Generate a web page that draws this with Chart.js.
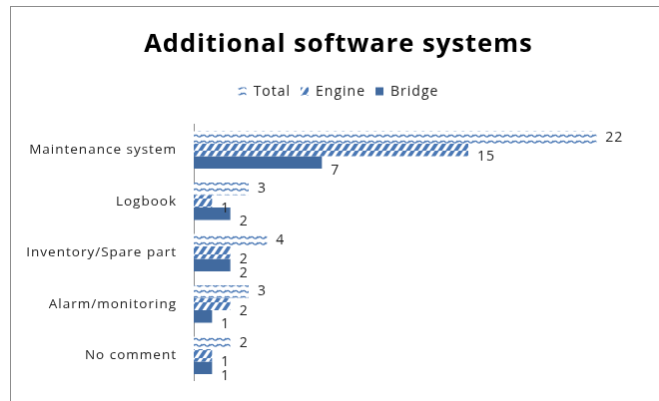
<!DOCTYPE html>
<html>
<head>
<meta charset="utf-8">
<script src="https://cdn.jsdelivr.net/npm/chart.js@4"></script>
<style>
    html, body { margin: 0; padding: 0; background: #fff; overflow: hidden; width: 659px; height: 401px; }
    #chart { position: absolute; left: 10px; top: 6px; border-left: 1px solid #8c8c8c; border-top: 1px solid #8c8c8c; }
</style>
</head>
<body>
<canvas id="chart" width="660" height="400"></canvas>
<script>
// Dados do gráfico
const categories = ['Maintenance system', 'Logbook', 'Inventory/Spare part', 'Alarm/monitoring', 'No comment'];
const totalValues = [22, 3, 4, 3, 2];
const engineValues = [15, 1, 2, 2, 1];
const bridgeValues = [7, 2, 2, 1, 1];
const seriesNames = ['Total', 'Engine', 'Bridge'];

const blue = '#416a9f';
const patternBlue = '#4a78b5';
const fontFamily = '"Open Sans", Lato, sans-serif';

// Padrão ondulado (Total)
function wavePattern() {
    const c = document.createElement('canvas');
    c.width = 8;
    c.height = 6;
    const g = c.getContext('2d');
    g.fillStyle = '#fff';
    g.fillRect(0, 0, 8, 6);
    g.strokeStyle = patternBlue;
    g.lineWidth = 1.3;
    g.beginPath();
    g.moveTo(-1, 4);
    g.quadraticCurveTo(1, 1, 3, 3.5);
    g.quadraticCurveTo(5, 5, 7, 2.5);
    g.lineTo(9, 4);
    g.stroke();
    return g.createPattern(c, 'repeat');
}

// Padrão de listras diagonais largas (Engine)
function hatchPattern() {
    const c = document.createElement('canvas');
    c.width = 8;
    c.height = 8;
    const g = c.getContext('2d');
    g.fillStyle = '#fff';
    g.fillRect(0, 0, 8, 8);
    g.strokeStyle = patternBlue;
    g.lineWidth = 3.6;
    g.beginPath();
    for (let k = -8; k <= 16; k += 8) {
        g.moveTo(k - 8, 8 + 8);
        g.lineTo(k + 8, 0 - 8);
    }
    g.stroke();
    return g.createPattern(c, 'repeat');
}

// Espaçamento das letras, parecido com o texto do Excel
const textSpacing = {
    id: 'textSpacing',
    beforeUpdate(chart) { chart.ctx.letterSpacing = '1px'; },
    beforeDraw(chart) { chart.ctx.letterSpacing = '1px'; }
};

// Rótulos de valor ao lado das barras
const valueLabels = {
    id: 'valueLabels',
    afterDatasetsDraw(chart) {
        const ctx = chart.ctx;
        const shiftY = [0, 7, 8];
        ctx.save();
        ctx.font = '14px ' + fontFamily;
        ctx.fillStyle = '#222';
        ctx.textAlign = 'left';
        ctx.textBaseline = 'middle';
        chart.data.datasets.forEach((ds, i) => {
            chart.getDatasetMeta(i).data.forEach((bar, j) => {
                ctx.fillText(String(ds.data[j]), bar.x + 9, bar.y + shiftY[i]);
            });
        });
        ctx.restore();
    }
};

const ctx = document.getElementById('chart').getContext('2d');
new Chart(ctx, {
    type: 'bar',
    data: {
        labels: categories,
        datasets: [
            { label: seriesNames[0], data: totalValues, backgroundColor: wavePattern(), borderWidth: 0 },
            { label: seriesNames[1], data: engineValues, backgroundColor: hatchPattern(), borderWidth: 0 },
            { label: seriesNames[2], data: bridgeValues, backgroundColor: blue, borderWidth: 0 }
        ]
    },
    options: {
        indexAxis: 'y',
        responsive: false,
        animation: false,
        categoryPercentage: 0.73,
        barPercentage: 1,
        layout: { padding: { left: 0, right: 4, top: 0, bottom: 25 } },
        plugins: {
            title: {
                display: true,
                text: 'Additional software systems',
                color: '#000',
                font: { family: fontFamily, size: 25.5, weight: 'bold', lineHeight: 1.2 },
                padding: { top: 22, bottom: 15 }
            },
            legend: {
                display: true,
                position: 'top',
                labels: {
                    color: '#222',
                    font: { family: fontFamily, size: 14 },
                    boxWidth: 8,
                    boxHeight: 8,
                    padding: 10
                }
            },
            tooltip: { enabled: false }
        },
        scales: {
            x: {
                position: 'top',
                min: 0,
                max: 25.8,
                grid: { display: false },
                border: { display: false },
                ticks: { display: false },
                afterFit(scale) { scale.height = 16; }
            },
            y: {
                grid: { display: false, drawTicks: false },
                border: { display: true, color: '#8c8c8c', width: 1 },
                ticks: { color: '#222', font: { family: fontFamily, size: 13.5 }, padding: 17 },
                afterFit(scale) { scale.width = 183; }
            }
        }
    },
    plugins: [textSpacing, valueLabels]
});
</script>
</body>
</html>
